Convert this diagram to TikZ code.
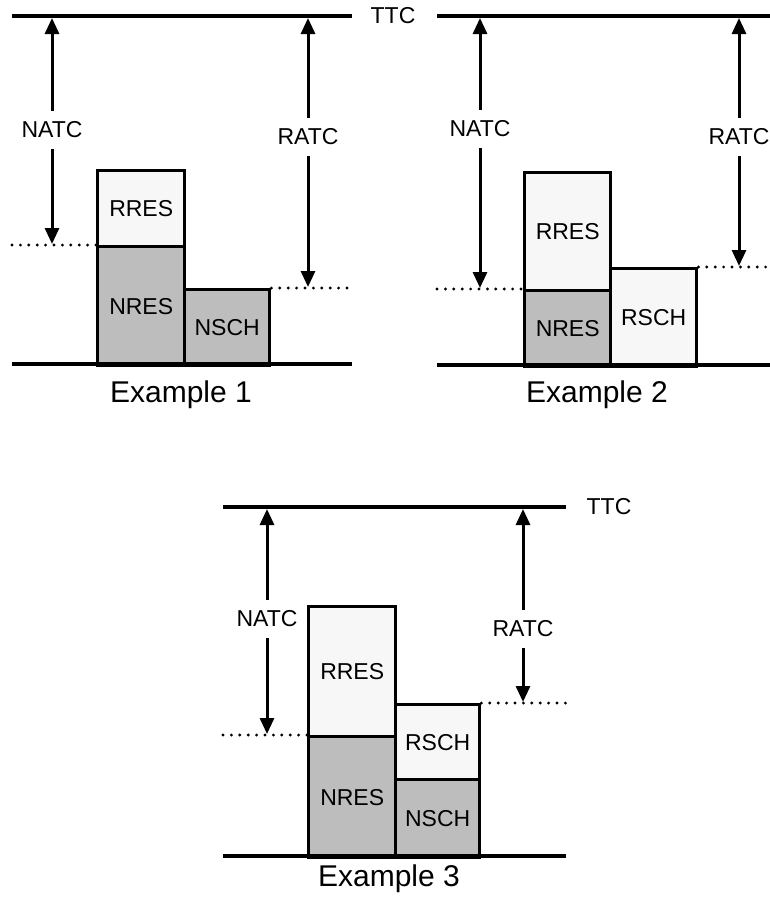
\documentclass[tikz,border=0pt]{standalone}
\usepackage{fontspec}
\setmainfont{Liberation Sans}
\usetikzlibrary{arrows.meta}

\begin{document}
\begin{tikzpicture}[x=1pt, y=-1pt,
    bar/.style={line width=4.5pt},
    level/.style={line width=3.2pt, line cap=round, dash pattern=on 0pt off 8.4pt},
    dim/.style={line width=3pt, -{Triangle[width=14pt, length=16pt]}},
    lbl/.style={fill=white, inner xsep=1pt, inner ysep=11pt, font=\fontsize{23}{27}\selectfont},
    blk/.style={draw, line width=3.4pt, anchor=north west, inner sep=0pt, font=\fontsize{23}{27}\selectfont},
    nblk/.style={blk, fill=black!26},
    rblk/.style={blk, fill=black!3},
    caption/.style={anchor=base, font=\fontsize{30}{36}\selectfont}]
  \useasboundingbox (0,0) rectangle (770,905);

  % Example 1
  \coordinate (tl1) at (12,16);   \coordinate (tr1) at (352,16);
  \coordinate (bl1) at (12,364);  \coordinate (br1) at (352,364);
  \node[nblk, minimum width=87pt, minimum height=119pt] (nres1) at (96,245) {NRES};
  \node[rblk, minimum width=87pt, minimum height=76pt]  (rres1) at (96,169) {RRES};
  \node[nblk, minimum width=85pt, minimum height=76pt]  (nsch1) at (183,288) {NSCH};
  \draw[bar] (tl1) -- (tr1);
  \draw[bar] (bl1) -- (br1);
  \node[font=\fontsize{23}{27}\selectfont] (ttc1) at (393,16) {TTC};
  \coordinate (nl1) at (12,245);  \coordinate (rr1) at (352,288);
  \draw[level] (nl1) -- (nres1.north west);
  \draw[level] (nsch1.north east) -- (rr1);
  \node[lbl] (natc1) at (52,130) {NATC};
  \coordinate (natc1t) at (52,18);  \coordinate (natc1b) at (52,244);
  \draw[dim] (natc1) -- (natc1t);
  \draw[dim] (natc1) -- (natc1b);
  \node[lbl] (ratc1) at (308,137) {RATC};
  \coordinate (ratc1t) at (308,18); \coordinate (ratc1b) at (308,287);
  \draw[dim] (ratc1) -- (ratc1t);
  \draw[dim] (ratc1) -- (ratc1b);
  \node[caption] (ex1) at (181,402) {Example 1};

  % Example 2
  \coordinate (tl2) at (437,16);  \coordinate (tr2) at (772,16);
  \coordinate (bl2) at (437,365); \coordinate (br2) at (772,365);
  \node[nblk, minimum width=86pt, minimum height=76pt]  (nres2) at (523,289) {NRES};
  \node[rblk, minimum width=86pt, minimum height=118pt] (rres2) at (523,171) {RRES};
  \node[rblk, minimum width=86pt, minimum height=98pt]  (rsch2) at (609,267) {RSCH};
  \draw[bar] (tl2) -- (tr2);
  \draw[bar] (bl2) -- (br2);
  \coordinate (nl2) at (437,289); \coordinate (rr2) at (772,267);
  \draw[level] (nl2) -- (nres2.north west);
  \draw[level] (rsch2.north east) -- (rr2);
  \node[lbl] (natc2) at (480,129) {NATC};
  \coordinate (natc2t) at (480,18); \coordinate (natc2b) at (480,288);
  \draw[dim] (natc2) -- (natc2t);
  \draw[dim] (natc2) -- (natc2b);
  \node[lbl] (ratc2) at (739,137) {RATC};
  \coordinate (ratc2t) at (739,18); \coordinate (ratc2b) at (739,266);
  \draw[dim] (ratc2) -- (ratc2t);
  \draw[dim] (ratc2) -- (ratc2b);
  \node[caption] (ex2) at (597,402) {Example 2};

  % Example 3
  \coordinate (tl3) at (223,507); \coordinate (tr3) at (566,507);
  \coordinate (bl3) at (223,856); \coordinate (br3) at (566,856);
  \node[nblk, minimum width=87pt, minimum height=121pt] (nres3) at (307,735) {NRES};
  \node[rblk, minimum width=87pt, minimum height=130pt] (rres3) at (307,605) {RRES};
  \node[nblk, minimum width=84pt, minimum height=78pt]  (nsch3) at (394,778) {NSCH};
  \node[rblk, minimum width=84pt, minimum height=75pt]  (rsch3) at (394,703) {RSCH};
  \draw[bar] (tl3) -- (tr3);
  \draw[bar] (bl3) -- (br3);
  \node[font=\fontsize{23}{27}\selectfont] (ttc3) at (609,507) {TTC};
  \coordinate (nl3) at (223,735); \coordinate (rr3) at (566,703);
  \draw[level] (nl3) -- (nres3.north west);
  \draw[level] (rsch3.north east) -- (rr3);
  \node[lbl] (natc3) at (267,619) {NATC};
  \coordinate (natc3t) at (267,509); \coordinate (natc3b) at (267,734);
  \draw[dim] (natc3) -- (natc3t);
  \draw[dim] (natc3) -- (natc3b);
  \node[lbl] (ratc3) at (523,629) {RATC};
  \coordinate (ratc3t) at (523,509); \coordinate (ratc3b) at (523,702);
  \draw[dim] (ratc3) -- (ratc3t);
  \draw[dim] (ratc3) -- (ratc3b);
  \node[caption] (ex3) at (389,886) {Example 3};
\end{tikzpicture}
\end{document}
